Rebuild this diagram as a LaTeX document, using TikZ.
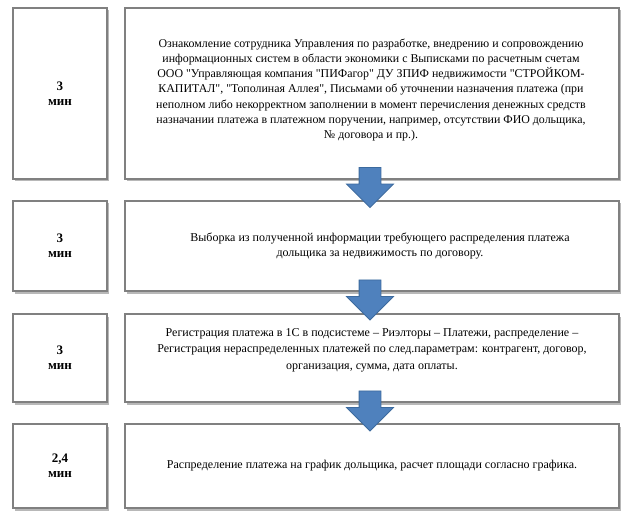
\documentclass[tikz,border=0pt]{standalone}
\usepackage{fontspec}
\setmainfont{Liberation Serif}[Ligatures=TeXOff]
\usetikzlibrary{shapes.arrows,shadows}

\begin{document}
\begin{tikzpicture}[x=1pt,y=-1pt]
  \definecolor{boxgray}{HTML}{808080}
  \definecolor{arrowblue}{HTML}{4F81BD}
  \definecolor{arrowedge}{HTML}{3C6A9E}
  \tikzstyle{stepbox}=[draw=boxgray, line width=1.6pt, fill=white, align=center, inner sep=0pt,
    drop shadow={shadow xshift=2pt, shadow yshift=-2.5pt, fill=black!55, opacity=.5}]
  \tikzstyle{timebox}=[stepbox, minimum width=94pt, font=\fontsize{13}{15}\selectfont\bfseries]
  \tikzstyle{taskbox}=[stepbox, minimum width=494pt, font=\fontsize{12}{15.3}\selectfont]
  \tikzstyle{downarrow}=[single arrow, rotate=-90, draw=arrowedge, fill=arrowblue, line width=0.8pt,
    minimum height=40pt, single arrow head extend=12.5pt, inner sep=10.5pt]

  \useasboundingbox[fill=white] (0,0) rectangle (635,532);

  % steps
  \node[timebox, minimum height=171pt](t1) at (60,93.5) {3\\мин};
  \node[taskbox, minimum height=171pt](s1) at (372,93.5) {};
  \node[font=\fontsize{11.9}{15.3}\selectfont, align=center, inner sep=0pt](s1text) at (371,90)
    {Ознакомление сотрудника Управления по разработке, внедрению и сопровождению\\
     информационных систем в области экономики с Выписками по расчетным счетам\\
     ООО "Управляющая компания "ПИФагор" ДУ ЗПИФ недвижимости "СТРОЙКОМ-\\
     КАПИТАЛ", "Тополиная Аллея", Письмами об уточнении назначения платежа (при\\
     неполном либо некорректном заполнении в момент перечисления денежных средств\\
     назначании платежа в платежном поручении, например, отсутствии ФИО дольщика,\\
     № договора и пр.).};

  \node[timebox, minimum height=90pt](t2) at (60,246) {3\\мин};
  \node[taskbox, minimum height=90pt](s2) at (372,246)
    {\hspace*{16pt}Выборка из полученной информации требующего распределения платежа\\
     \hspace*{16pt}дольщика за недвижимость по договору.};

  \node[timebox, minimum height=88pt](t3) at (60,358) {3\\мин};
  \node[taskbox, minimum height=88pt](s3) at (372,358) {};
  \node[font=\fontsize{12}{16.5}\selectfont, align=center, inner sep=0pt](s3text) at (372,350)
    {Регистрация платежа в 1С в подсистеме – Риэлторы – Платежи, распределение –\\
     Регистрация нераспределенных платежей по след.параметрам: контрагент, договор,\\
     организация, сумма, дата оплаты.};

  \node[timebox, minimum height=84pt](t4) at (60,466) {2,4\\мин};
  \node[taskbox, minimum height=84pt](s4) at (372,466)
    {Распределение платежа на график дольщика, расчет площади согласно графика.};

  % arrows between the steps
  \node[downarrow](a1) at (370,182) {};
  \node[downarrow](a2) at (370,294.5) {};
  \node[downarrow](a3) at (370,405.5) {};

\end{tikzpicture}
\end{document}
